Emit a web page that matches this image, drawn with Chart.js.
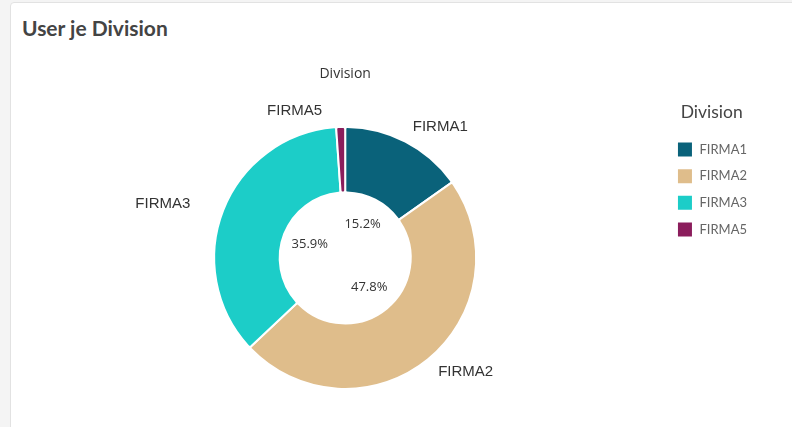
<!DOCTYPE html>
<html>
<head>
<meta charset="utf-8">
<script src="https://cdn.jsdelivr.net/npm/chart.js@4"></script>
<style>
  html, body { margin: 0; padding: 0; background: #f4f4f4; width: 792px; height: 427px; overflow: hidden; }
  .card { position: absolute; left: 10px; top: 2px; width: 800px; height: 440px; background: #fff;
          border: 1px solid #e2e2e2; border-radius: 4px; }
  .card h2 { position: absolute; left: 11px; top: 12px; margin: 0; font: 700 21px Lato, sans-serif; color: #444; }
  #chartBox { position: absolute; left: 10px; top: 50px; width: 782px; height: 377px; }
</style>
</head>
<body>
<div class="card"><h2>User je Division</h2></div>
<div id="chartBox"><canvas id="divisionChart"></canvas></div>
<script>
// Chart data
const divisions = ['FIRMA1', 'FIRMA2', 'FIRMA3', 'FIRMA5'];
const userShare = [15.2, 47.8, 35.9, 1.1];
const sliceColors = ['#0a627a', '#dfbd8b', '#1ccdc8', '#8b1d5c'];

// Slice names outside the ring, percentages inside the hole
const sliceLabels = {
    id: 'sliceLabels',
    afterDatasetsDraw(chart) {
        const ctx = chart.ctx;
        const meta = chart.getDatasetMeta(0);
        const total = userShare.reduce((sum, v) => sum + v, 0);
        ctx.save();
        meta.data.forEach((arc, i) => {
            const { x, y, startAngle, endAngle, outerRadius, innerRadius } = arc.getProps(
                ['x', 'y', 'startAngle', 'endAngle', 'outerRadius', 'innerRadius'], true);
            const mid = (startAngle + endAngle) / 2;
            const cos = Math.cos(mid);
            const sin = Math.sin(mid);

            // name outside
            const r = outerRadius + 16;
            let lx = x + cos * r;
            const ly = y + sin * r;
            ctx.font = '15px "Liberation Sans", Arial, sans-serif';
            ctx.fillStyle = '#333';
            ctx.textBaseline = 'middle';
            if (cos >= 0) {
                ctx.textAlign = 'left';
            } else {
                ctx.textAlign = 'right';
                lx -= 18;
            }
            ctx.fillText(divisions[i], lx, ly);

            // percentage inside
            const pct = userShare[i] / total * 100;
            if (pct >= 3) {
                const pr = innerRadius * 0.58;
                ctx.font = '13px "Open Sans", sans-serif';
                ctx.textAlign = 'center';
                ctx.fillText(pct.toFixed(1) + '%', x + cos * pr, y + sin * pr);
            }
        });
        ctx.restore();
    }
};

const ctx = document.getElementById('divisionChart').getContext('2d');
const divisionChart = new Chart(ctx, {
    type: 'doughnut',
    data: {
        labels: divisions,
        datasets: [{
            data: userShare,
            backgroundColor: sliceColors,
            borderColor: '#fff',
            borderWidth: 2,
            borderRadius: 2
        }]
    },
    options: {
        responsive: true,
        maintainAspectRatio: false,
        animation: false,
        radius: 131,
        cutout: '50%',
        layout: {
            padding: { left: 14, right: 35, top: 0, bottom: 4 }
        },
        plugins: {
            title: {
                display: true,
                fullSize: false,
                text: 'Division',
                color: '#333',
                font: { family: 'Open Sans', size: 14, weight: 'normal' },
                padding: { top: 16, bottom: 10 }
            },
            legend: {
                position: 'right',
                align: 'start',
                title: {
                    display: true,
                    text: 'Division',
                    position: 'center',
                    color: '#444',
                    font: { family: 'Lato', size: 17.5 },
                    padding: { top: 54, bottom: 6 }
                },
                labels: {
                    boxWidth: 16,
                    boxHeight: 16,
                    color: '#666',
                    font: { family: 'Lato', size: 13 },
                    padding: 10.6
                }
            },
            tooltip: { enabled: false }
        }
    },
    plugins: [sliceLabels]
});
</script>
</body>
</html>
